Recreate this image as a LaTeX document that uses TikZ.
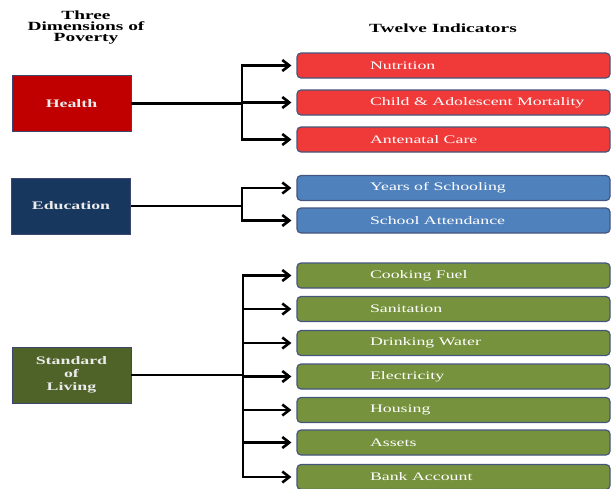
\documentclass[tikz,border=0pt]{standalone}
\usepackage{fontspec}
\setmainfont{Liberation Serif}
\newfontfamily\diafont[FakeStretch=1.55]{Liberation Serif}
\usetikzlibrary{arrows.meta}

\definecolor{healthred}{RGB}{192,0,0}
\definecolor{edublue}{RGB}{23,55,94}
\definecolor{livgreen}{RGB}{79,98,40}
\definecolor{dimedge}{RGB}{60,70,110}
\definecolor{indred}{RGB}{240,58,58}
\definecolor{indblue}{RGB}{79,129,189}
\definecolor{indgreen}{RGB}{118,146,60}
\definecolor{indedge}{RGB}{70,85,125}

\newcommand{\lbl}[1]{\makebox[167pt][l]{#1}}

\begin{document}
\begin{tikzpicture}[x=1pt, y=-1pt,
    >={Straight Barb[length=7pt,width=11pt]},
    head/.style={font=\diafont\fontsize{12.5}{11}\selectfont\bfseries, align=center},
    dimbox/.style={draw=dimedge, line width=0.8pt, minimum width=119pt, minimum height=56pt,
        text=white!92!black, font=\diafont\fontsize{11.5}{13}\selectfont\bfseries, align=center},
    indbox/.style={draw=indedge, line width=1.2pt, rounded corners=4pt, minimum width=313pt,
        minimum height=25pt, inner xsep=73pt, inner ysep=0pt, text=white,
        font=\diafont\fontsize{11.5}{13}\selectfont},
    link/.style={line width=2.6pt}]
    \useasboundingbox (0,0) rectangle (612,488);

    % Headings
    \node[head] (dimhead) at (86,28) {Three\\Dimensions of\\Poverty};
    \node[head] (indhead) at (443,28) {Twelve Indicators};

    % Dimension boxes
    \node[dimbox, fill=healthred] (health) at (71.5,103.5) {Health};
    \node[dimbox, fill=edublue] (edu) at (71,206) {Education};
    \node[dimbox, fill=livgreen] (living) at (71.5,375) {Standard\\of\\Living};

    % Indicator boxes
    \foreach \name/\y/\txt in {nut/65.5/Nutrition, mort/102.5/Child \& Adolescent Mortality,
        ante/139.5/Antenatal Care}
        \node[indbox, fill=indred] (\name) at (453.5,\y) {\lbl{\txt}};
    \foreach \name/\y/\txt in {years/188/Years of Schooling, attend/220.5/School Attendance}
        \node[indbox, fill=indblue] (\name) at (453.5,\y) {\lbl{\txt}};
    \foreach \name/\y/\txt in {fuel/275.5/Cooking Fuel, sanit/309/Sanitation,
        water/343/Drinking Water, elec/376.5/Electricity, house/410/Housing,
        assets/442.5/Assets, bank/477/Bank Account}
        \node[indbox, fill=indgreen] (\name) at (453.5,\y) {\lbl{\txt}};

    % Branch points
    \coordinate (hj) at (242,103.5);
    \coordinate (ej) at (242,205);
    \coordinate (lj) at (243,376);

    % Health connectors
    \draw[link] (health.east) -- (hj |- health.east);
    \draw[link,<->] ([xshift=-5pt]nut.west) -| (hj) |- ([xshift=-5pt]ante.west);
    \draw[link,->] (hj |- mort) -- ([xshift=-5pt]mort.west);

    % Education connectors
    \draw[link] (edu.east) -- (ej |- edu.east);
    \draw[link,<->] ([xshift=-5pt]years.west) -| (ej) |- ([xshift=-5pt]attend.west);

    % Standard of living connectors
    \draw[link] (living.east) -- (lj |- living.east);
    \draw[link,<->] ([xshift=-5pt]fuel.west) -| (lj) |- ([xshift=-5pt]bank.west);
    \foreach \b in {sanit, water, elec, house, assets}
        \draw[link,->] (lj |- \b) -- ([xshift=-5pt]\b.west);
\end{tikzpicture}
\end{document}
